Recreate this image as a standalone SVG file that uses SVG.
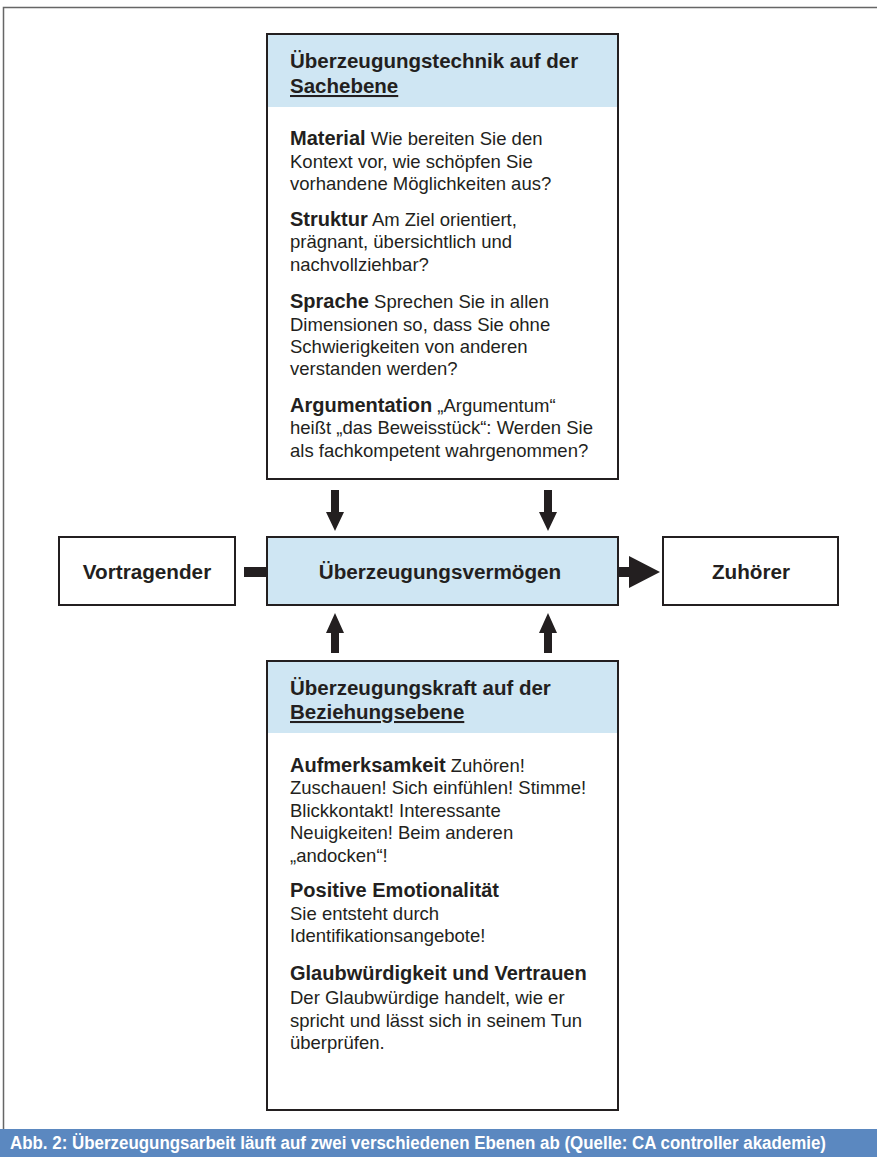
<svg xmlns="http://www.w3.org/2000/svg" width="877" height="1157" viewBox="0 0 877 1157">
<defs>
<style>
text{font-family:"Liberation Sans",Arial,sans-serif;fill:#231f20}
.box{fill:#fff;stroke:#231f20;stroke-width:2}
.blue{fill:#cfe6f3}
.h{font-size:20.5px;font-weight:bold}
.b{font-size:18.5px}
.bb{font-weight:bold;font-size:20px}
.c{font-size:20.7px;font-weight:bold;text-anchor:middle}
.arr{fill:#231f20}
</style>
</defs>
<rect x="0" y="0" width="877" height="1157" fill="#fff"/>
<path d="M3.5 1130 V7.5 H877" fill="none" stroke="#666" stroke-width="1.5"/>
<rect x="0" y="1129" width="877" height="28" fill="#5b88c0"/>
<text x="10" y="1149" style="font-family:'Liberation Sans Narrow','Liberation Sans',Arial,sans-serif;font-size:18px;font-weight:bold;fill:#fff" textLength="816" lengthAdjust="spacingAndGlyphs">Abb. 2: Überzeugungsarbeit läuft auf zwei verschiedenen Ebenen ab (Quelle: CA controller akademie)</text>

<g id="sachebene">
<rect class="box" x="267" y="34" width="351" height="445"/>
<rect class="blue" x="268" y="35" width="349" height="72"/>
<text class="h" x="290" y="68">Überzeugungstechnik auf der</text>
<text class="h" x="290" y="93" text-decoration="underline">Sachebene</text>
<text class="b" x="290" y="145"><tspan class="bb">Material</tspan> Wie bereiten Sie den</text>
<text class="b" x="290" y="168">Kontext vor, wie schöpfen Sie</text>
<text class="b" x="290" y="190">vorhandene Möglichkeiten aus?</text>
<text class="b" x="290" y="226"><tspan class="bb">Struktur</tspan> Am Ziel orientiert,</text>
<text class="b" x="290" y="248">prägnant, übersichtlich und</text>
<text class="b" x="290" y="271">nachvollziehbar?</text>
<text class="b" x="290" y="308"><tspan class="bb">Sprache</tspan> Sprechen Sie in allen</text>
<text class="b" x="290" y="331">Dimensionen so, dass Sie ohne</text>
<text class="b" x="290" y="353">Schwierigkeiten von anderen</text>
<text class="b" x="290" y="375">verstanden werden?</text>
<text class="b" x="290" y="412"><tspan class="bb">Argumentation</tspan>  „Argumentum“</text>
<text class="b" x="290" y="434">heißt „das Beweisstück“: Werden Sie</text>
<text class="b" x="290" y="457">als fachkompetent wahrgenommen?</text>
</g>

<g id="vortragender">
<rect class="box" x="59" y="537" width="176" height="68"/>
<text class="c" x="147" y="579">Vortragender</text>
</g>

<g id="vermoegen">
<rect class="box" x="267" y="537" width="351" height="68" style="fill:#cfe6f3"/>
<text class="c" x="440" y="579">Überzeugungsvermögen</text>
</g>

<g id="zuhoerer">
<rect class="box" x="663" y="537" width="175" height="68"/>
<text class="c" x="751" y="579">Zuhörer</text>
</g>

<g id="beziehungsebene">
<rect class="box" x="267" y="661" width="351" height="449"/>
<rect class="blue" x="268" y="662" width="349" height="71"/>
<text class="h" x="290" y="695">Überzeugungskraft auf der</text>
<text class="h" x="290" y="719" text-decoration="underline">Beziehungsebene</text>
<text class="b" x="290" y="772"><tspan class="bb">Aufmerksamkeit</tspan> Zuhören!</text>
<text class="b" x="290" y="794">Zuschauen! Sich einfühlen! Stimme!</text>
<text class="b" x="290" y="817">Blickkontakt! Interessante</text>
<text class="b" x="290" y="839">Neuigkeiten! Beim anderen</text>
<text class="b" x="290" y="862">„andocken“!</text>
<text class="bb" x="290" y="897">Positive Emotionalität</text>
<text class="b" x="290" y="920">Sie entsteht durch</text>
<text class="b" x="290" y="942">Identifikationsangebote!</text>
<text class="bb" x="290" y="980">Glaubwürdigkeit und Vertrauen</text>
<text class="b" x="290" y="1004">Der Glaubwürdige handelt, wie er</text>
<text class="b" x="290" y="1027">spricht und lässt sich in seinem Tun</text>
<text class="b" x="290" y="1049">überprüfen.</text>
</g>

<g id="connectors">
<path class="arr" d="M331 490 H339 V512 H344 L335 531 L326 512 H331 Z"/>
<path class="arr" d="M544 490 H552 V512 H557 L548 531 L539 512 H544 Z"/>
<path class="arr" d="M331 653 H339 V633 H344 L335 613 L326 633 H331 Z"/>
<path class="arr" d="M544 653 H552 V633 H557 L548 613 L539 633 H544 Z"/>
<rect class="arr" x="244" y="567" width="23" height="10"/>
<path class="arr" d="M619 567 H629 V556 L660 572 L629 588 V577 H619 Z"/>
</g>
</svg>
